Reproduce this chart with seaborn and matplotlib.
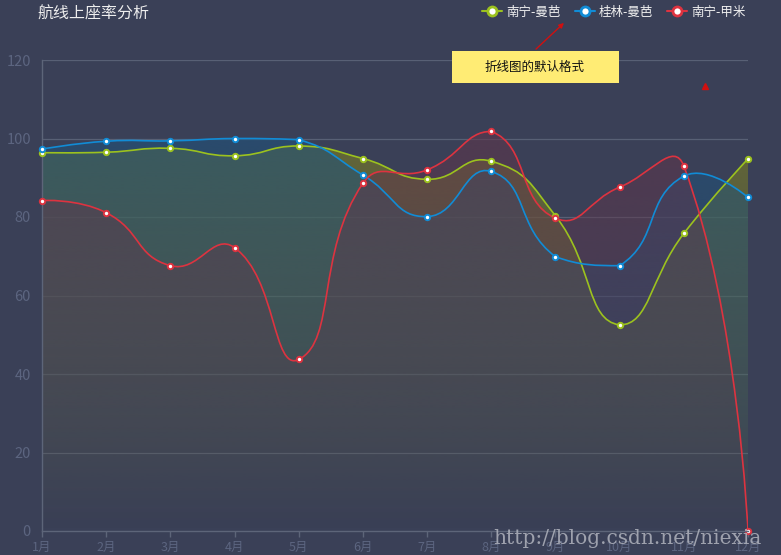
import numpy as np
import pandas as pd
import matplotlib
matplotlib.use("Agg")
import matplotlib.pyplot as plt
import seaborn as sns
from matplotlib.path import Path
from matplotlib.patches import PathPatch, Rectangle
from matplotlib.lines import Line2D

# ---------------- data ----------------
months = ['1月', '2月', '3月', '4月', '5月', '6月', '7月', '8月', '9月', '10月', '11月', '12月']
series_names = ['南宁-曼芭', '桂林-曼芭', '南宁-甲米']
nanning_mangba = [96.4, 96.5, 97.5, 95.6, 98.1, 94.9, 89.6, 94.2, 80.3, 52.5, 75.8, 94.8]
guilin_mangba = [97.3, 99.3, 99.4, 100.0, 99.7, 90.7, 80.1, 91.6, 69.9, 67.6, 90.4, 85.0]
nanning_jiami = [84.2, 81.1, 67.6, 72.2, 43.7, 88.6, 92.0, 101.8, 79.7, 87.6, 93.0, 0.0]
y_ticks = [0, 20, 40, 60, 80, 100, 120]
title = '航线上座率分析'
note_text = '折线图的默认格式'
watermark = 'http://blog.csdn.net/niexia'

# ---------------- styles ----------------
BG = '#3a4057'
AXIS_C = '#5d6579'
GRID_C = '#586075'
LABEL_C = '#5c6580'
line_colors = ['#9cc21e', '#118cd6', '#dd3340']
fill_colors = ['#7d7f23', '#1f527b', '#5f364c']
FILL_ALPHA = 0.6

sns.set_theme(style='dark')
plt.rcParams['font.family'] = ['Noto Sans CJK SC', 'DejaVu Sans']
plt.rcParams['axes.unicode_minus'] = False

W, H = 781, 555
fig = plt.figure(figsize=(W / 100, H / 100), dpi=100, facecolor=BG)
L, R, T, B = 42, 748, 60, 531
ax = fig.add_axes([L / W, (H - B) / H, (R - L) / W, (B - T) / H])
ax.set_facecolor(BG)
ax.set_xlim(0, len(months) - 1)
ax.set_ylim(0, 120)

# pixel scales for echarts-like smoothing
sx = (R - L) / (len(months) - 1)
sy = (B - T) / 120.0


def smooth_path(xs, ys, smooth=0.5):
    P = np.column_stack([np.asarray(xs, float) * sx, np.asarray(ys, float) * sy])
    n = len(P)
    mn, mx = P.min(0), P.max(0)
    cps = []
    for i in range(n):
        p = P[i]
        if i == 0 or i == n - 1:
            cps.append((p.copy(), p.copy()))
            continue
        prev, nxt = P[i - 1], P[i + 1]
        v = (nxt - prev) * smooth
        d0 = np.linalg.norm(p - prev)
        d1 = np.linalg.norm(p - nxt)
        s = d0 + d1
        if s:
            d0 /= s
            d1 /= s
        c0 = np.clip(p - v * d0, mn, mx)
        c1 = np.clip(p + v * d1, mn, mx)
        cps.append((c0, c1))
    verts = [P[0]]
    codes = [Path.MOVETO]
    for i in range(n - 1):
        verts += [cps[i][1], cps[i + 1][0], P[i + 1]]
        codes += [Path.CURVE4] * 3
    verts = np.array(verts) / [sx, sy]
    return verts, codes


x_idx = np.arange(len(months))
all_series = [nanning_mangba, guilin_mangba, nanning_jiami]

# grid lines
for yt in y_ticks[1:]:
    ax.axhline(yt, color=GRID_C, lw=0.9, zorder=0.5)

# gradient area fills
for k, vals in enumerate(all_series):
    verts, codes = smooth_path(x_idx, vals)
    fverts = np.vstack([verts, [[x_idx[-1], 0], [x_idx[0], 0], [x_idx[0], 0]]])
    fcodes = codes + [Path.LINETO, Path.LINETO, Path.CLOSEPOLY]
    fpatch = PathPatch(Path(fverts, fcodes), facecolor='none', edgecolor='none')
    ax.add_patch(fpatch)
    vmax = max(vals)
    rgb = matplotlib.colors.to_rgb(fill_colors[k])
    nrow = 256
    grad = np.zeros((nrow, 1, 4))
    grad[..., 0], grad[..., 1], grad[..., 2] = rgb
    grad[:, 0, 3] = FILL_ALPHA * np.linspace(0, 1, nrow)
    im = ax.imshow(grad, extent=(0, len(months) - 1, 0, vmax), origin='lower',
                   aspect='auto', interpolation='bilinear', zorder=1 + k * 0.1)
    im.set_clip_path(fpatch)

# smooth lines
for k, vals in enumerate(all_series):
    verts, codes = smooth_path(x_idx, vals)
    ax.add_patch(PathPatch(Path(verts, codes), facecolor='none',
                           edgecolor=line_colors[k], lw=1.2, zorder=3))

# markers via seaborn
df = pd.DataFrame({
    'idx': np.tile(x_idx, 3),
    'value': nanning_mangba + guilin_mangba + nanning_jiami,
    'series': np.repeat(series_names, len(months)),
})
for k, name in enumerate(series_names):
    sub = df[df['series'] == name]
    sns.scatterplot(data=sub, x='idx', y='value', ax=ax, color='white',
                    edgecolor=line_colors[k], linewidth=1.4, s=15, zorder=5,
                    clip_on=False, legend=False)

ax.set_xlim(0, len(months) - 1)
ax.set_ylim(0, 120)
ax.set_xlabel('')
ax.set_ylabel('')
ax.grid(False)

# axes styling
for side in ['top', 'right']:
    ax.spines[side].set_visible(False)
for side in ['left', 'bottom']:
    ax.spines[side].set_visible(True)
    ax.spines[side].set_color(AXIS_C)
    ax.spines[side].set_linewidth(1.0)
ax.spines['bottom'].set_zorder(6)

ax.set_yticks(y_ticks)
ax.set_yticklabels([str(v) for v in y_ticks])
ax.set_xticks(x_idx)
ax.set_xticklabels(months)
ax.tick_params(axis='y', length=0, pad=8, labelsize=10.5, labelcolor=LABEL_C)
ax.tick_params(axis='x', length=4, width=1, color=AXIS_C, pad=3,
               labelsize=9, labelcolor=LABEL_C, direction='out', bottom=True)

# title
fig.text(37 / W, 1 - 14 / H, title, color='#eeeeee', fontsize=11.5,
         va='center', ha='left', fontweight='medium')

# legend
handles = [Line2D([], [], color=c, lw=1.5, marker='o', markersize=6.5,
                  markerfacecolor='white', markeredgecolor=c, markeredgewidth=2)
           for c in line_colors]
leg = fig.legend(handles, series_names, loc='center right',
                 bbox_to_anchor=(757 / W, 1 - 12 / H), ncol=3, frameon=False,
                 fontsize=9, handlelength=1.6, handletextpad=0.35,
                 columnspacing=1.1, labelcolor='#f0f0f0')

# yellow note box with red arrows
fig.patches.append(Rectangle((452 / W, 1 - 83 / H), (619 - 452) / W, 32 / H,
                             transform=fig.transFigure, facecolor='#ffec74',
                             edgecolor='none', zorder=10))
fig.text(535 / W, 1 - 67.5 / H, note_text, color='#111111', fontsize=9,
         ha='center', va='center', zorder=11)
fig.add_artist(matplotlib.patches.FancyArrowPatch(
    (534 / W, 1 - 51 / H), (566 / W, 1 - 21 / H), transform=fig.transFigure,
    arrowstyle='-|>', mutation_scale=7, color='#d01010', lw=1.0, zorder=11))
fig.add_artist(Line2D([705 / W], [1 - 86 / H], transform=fig.transFigure,
                      marker='^', markersize=4, color='#d01010', lw=0, zorder=11))

# watermark
fig.text(493 / W, 1 - 538 / H, watermark, color='#b0b3bd', fontsize=14.5,
         family='DejaVu Serif', ha='left', va='center', alpha=0.85, zorder=12)

fig.savefig('out.png', dpi=100, facecolor=BG)
